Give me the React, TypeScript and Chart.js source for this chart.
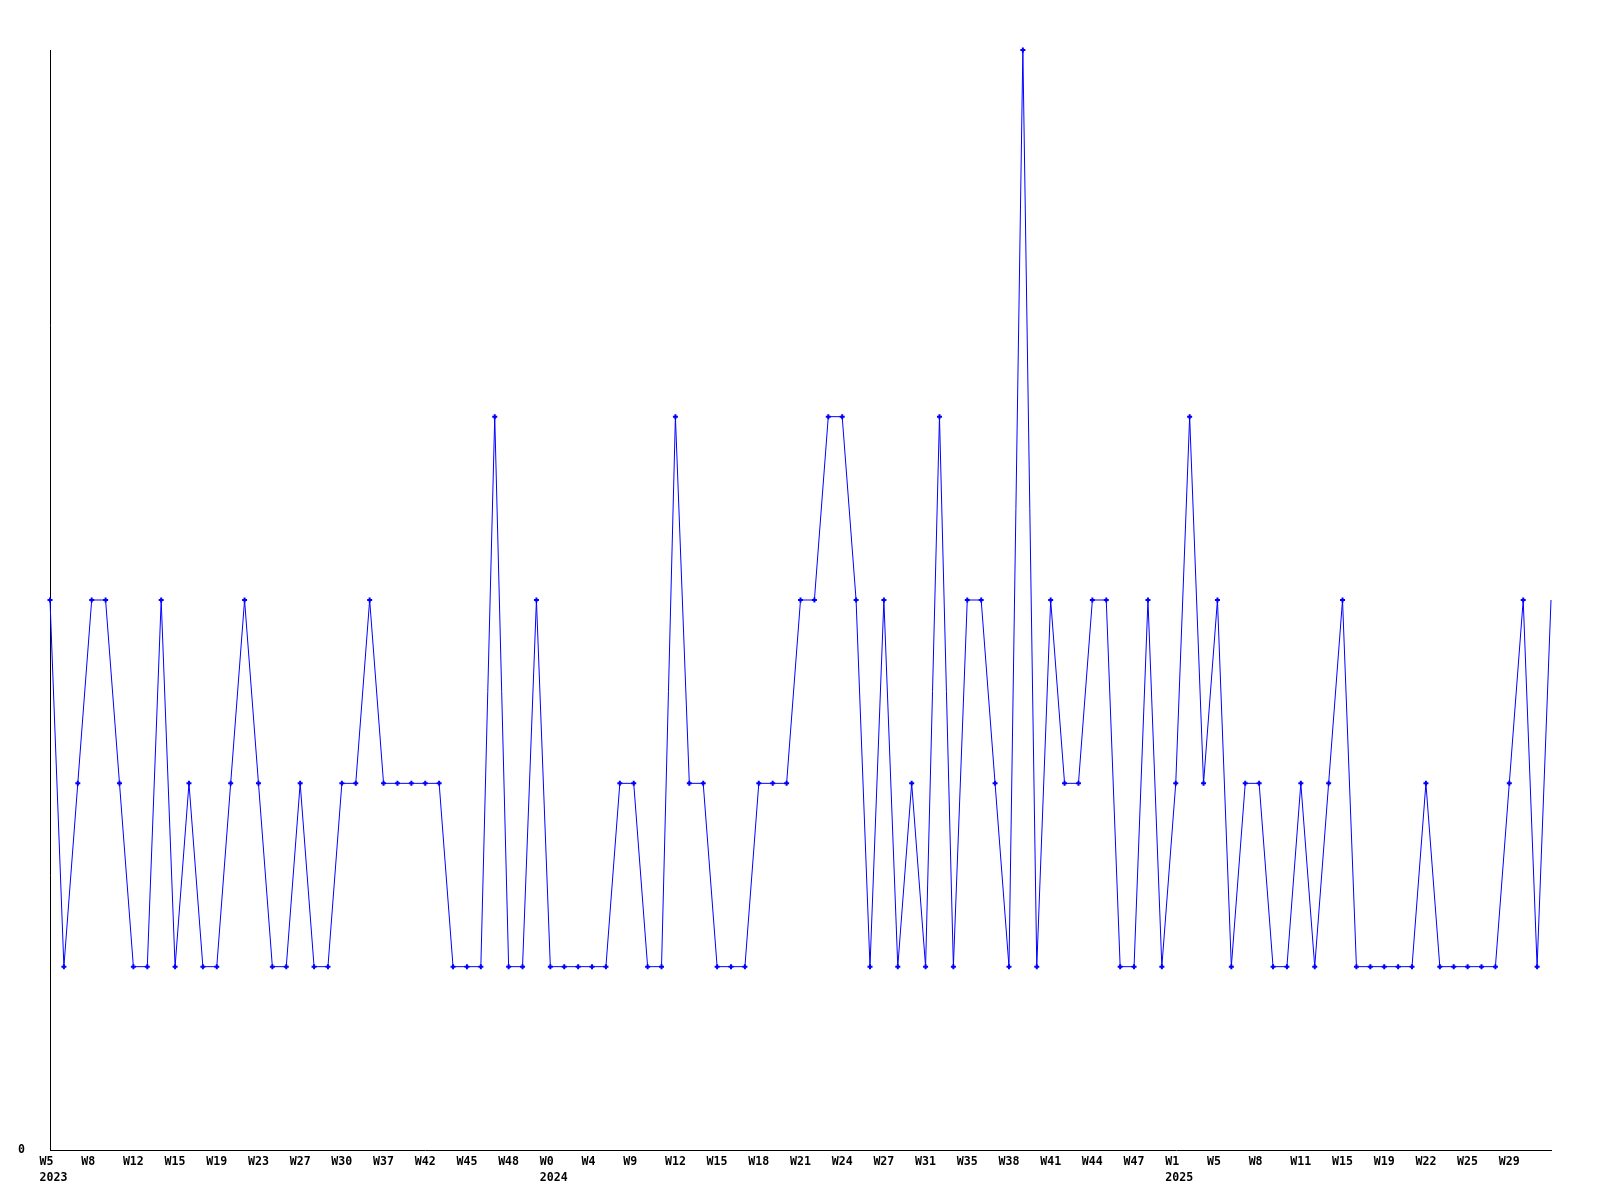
import React, { useEffect, useRef } from "react";
import { Chart, registerables } from "chart.js";

Chart.register(...registerables);

// Weekly values, one per point
const values: number[] = [
  3, 1, 2, 3, 3, 2, 1, 1, 3, 1,
  2, 1, 1, 2, 3, 2, 1, 1, 2, 1,
  1, 2, 2, 3, 2, 2, 2, 2, 2, 1,
  1, 1, 4, 1, 1, 3, 1, 1, 1, 1,
  1, 2, 2, 1, 1, 4, 2, 2, 1, 1,
  1, 2, 2, 2, 3, 3, 4, 4, 3, 1,
  3, 1, 2, 1, 4, 1, 3, 3, 2, 1,
  6, 1, 3, 2, 2, 3, 3, 1, 1, 3,
  1, 2, 4, 2, 3, 1, 2, 2, 1, 1,
  2, 1, 2, 3, 1, 1, 1, 1, 1, 2,
  1, 1, 1, 1, 1, 2, 3, 1, 3,
];

// Tick labels shown on every third point
const tickLabels: string[] = [
  "W5", "W8", "W12", "W15", "W19", "W23", "W27", "W30", "W37", "W42", "W45", "W48",
  "W0", "W4", "W9", "W12", "W15", "W18", "W21", "W24", "W27", "W31", "W35", "W38",
  "W41", "W44", "W47", "W1", "W5", "W8", "W11", "W15", "W19", "W22", "W25", "W29",
];
const yearTickIndex: number[] = [0, 12, 27];
const yearLabels: string[] = ["2023", "2024", "2025"];
const labelEvery = 3;

const yMin = 0;
const yMax = 6;

export default function App() {
  const ref = useRef<HTMLCanvasElement | null>(null);

  useEffect(() => {
    document.body.style.margin = "0";
    document.body.style.overflow = "hidden";
    if (!ref.current) return;

    const labels = values.map((_, i) => {
      if (i % labelEvery !== 0) return "";
      const t = i / labelEvery;
      if (t >= tickLabels.length) return "";
      const yi = yearTickIndex.indexOf(t);
      return yi >= 0 ? [tickLabels[t], yearLabels[yi]] : tickLabels[t];
    });

    const font = { family: "'DejaVu Sans Mono', monospace", size: 11.6, weight: "bold" as const, lineHeight: "16px" };

    const chart = new Chart(ref.current, {
      type: "line",
      data: {
        labels,
        datasets: [
          {
            data: values,
            borderColor: "#0000ff",
            backgroundColor: "#0000ff",
            borderWidth: 1,
            tension: 0,
            fill: false,
            pointStyle: "cross",
            pointRadius: (ctx: any) => (ctx.dataIndex === values.length - 1 ? 0 : 2.5),
            pointBorderWidth: 2,
            pointBorderColor: "#0000ff",
            pointHoverRadius: 2.5,
            clip: false as any,
          },
        ],
      },
      options: {
        animation: false,
        responsive: false,
        maintainAspectRatio: false,
        events: [],
        layout: { padding: { top: 50, right: 49, left: 0, bottom: 0 } },
        plugins: {
          legend: { display: false },
          tooltip: { enabled: false },
          title: { display: false },
        },
        scales: {
          x: {
            type: "category",
            offset: false,
            grid: { display: false, drawTicks: false },
            border: { display: true, color: "#000000", width: 1 },
            ticks: {
              autoSkip: false,
              maxRotation: 0,
              minRotation: 0,
              align: "start",
              labelOffset: -10.5,
              padding: 4,
              color: "#000000",
              font,
            },
            afterFit: (scale: any) => {
              scale.height = 50;
            },
          },
          y: {
            min: yMin,
            max: yMax,
            grid: { display: false, drawTicks: false },
            border: { display: true, color: "#000000", width: 1 },
            ticks: {
              stepSize: 1,
              padding: 25,
              color: "#000000",
              font,
              callback: (v: any) => (Number(v) === 0 ? "0" : ""),
            },
            afterFit: (scale: any) => {
              scale.width = 50;
            },
          },
        },
      },
    });

    return () => chart.destroy();
  }, []);

  return (
    <div style={{ width: 1600, height: 1200, background: "#ffffff" }}>
      <canvas ref={ref} width={1600} height={1200} style={{ display: "block", width: 1600, height: 1200 }} />
    </div>
  );
}
